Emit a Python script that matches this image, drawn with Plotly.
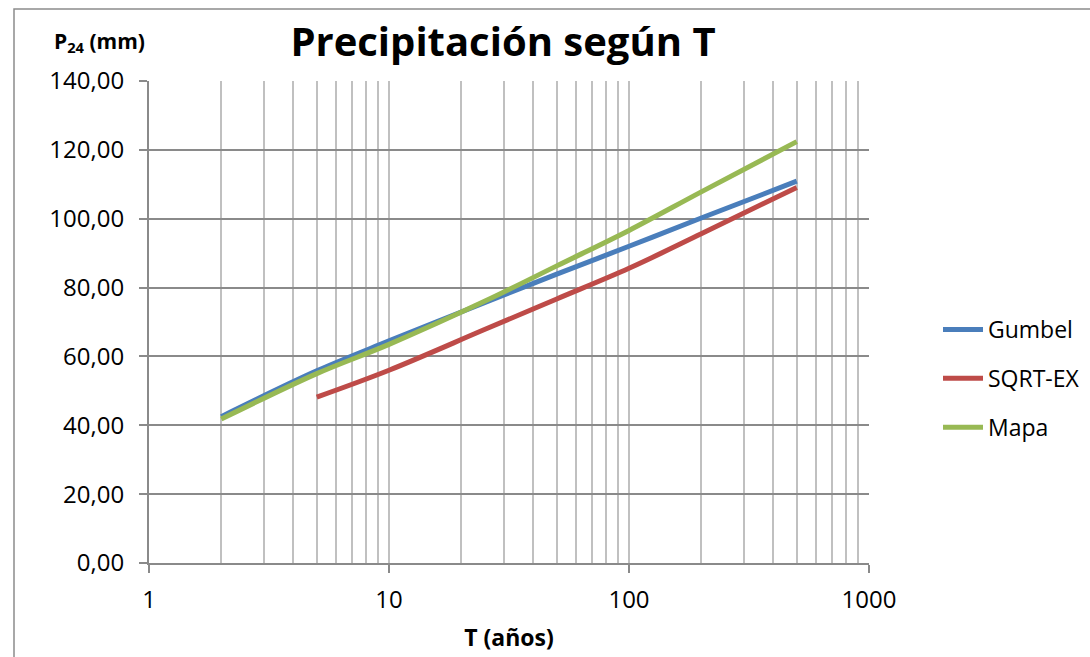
import plotly.graph_objects as go

# ---- data ----
T_gumbel = [2, 5, 10, 25, 50, 100, 200, 500]
gumbel = [42.5, 55.8, 64.5, 75.6, 83.9, 92.0, 100.2, 110.9]

T_sqrt = [5, 10, 25, 50, 100, 200, 500]
sqrt_ex = [48.2, 56.0, 67.8, 76.7, 85.6, 95.6, 109.1]

T_mapa = [2, 5, 10, 25, 50, 100, 200, 500]
mapa = [41.8, 55.0, 63.5, 76.0, 86.3, 96.6, 107.8, 122.4]

x_tickvals = [1, 10, 100, 1000]
x_ticktext = ["1", "10", "100", "1000"]

FONT = "Open Sans"
W, H = 1090, 657
L, R, T, B = 149, 869, 81, 563  # plot area pixel bounds

fig = go.Figure()
series = [
    ("Gumbel", T_gumbel, gumbel, "#4A7EBB"),
    ("SQRT-EX", T_sqrt, sqrt_ex, "#BE4B48"),
    ("Mapa", T_mapa, mapa, "#98B954"),
]
for i, (name, xs, ys, col) in enumerate(series):
    fig.add_trace(go.Scatter(
        x=xs, y=ys, mode="lines", name=name, legendgroup=f"g{i}",
        line=dict(color=col, width=5, shape="spline", smoothing=1.0),
    ))

def px_x(p):
    return (p - L) / (R - L)

def px_y(p):
    return (B - p) / (B - T)

fig.update_layout(
    width=W, height=H,
    margin=dict(l=L, r=W - R, t=T, b=H - B, autoexpand=False),
    paper_bgcolor="white", plot_bgcolor="white",
    separators=",.",
    font=dict(family=FONT, size=24, color="#000000"),
    title=dict(text="<b>Precipitación según T</b>", x=503 / W, xanchor="center",
               y=1 - 42 / H, yanchor="middle", yref="container",
               font=dict(family=FONT, size=40, color="#000000")),
    showlegend=True,
    legend=dict(x=px_x(938), y=px_y(308), xanchor="left", yanchor="top",
                font=dict(family=FONT, size=23), tracegroupgap=16,
                bgcolor="rgba(0,0,0,0)", itemwidth=40),
    xaxis=dict(type="log", range=[0, 3], tickvals=x_tickvals, ticktext=x_ticktext,
               automargin=False,
               showgrid=True, gridcolor="#C0C0C0", gridwidth=2,
               minor=dict(dtick="D1", showgrid=True, gridcolor="#C0C0C0", gridwidth=2),
               showline=True, linecolor="#8A8A8A", linewidth=2, mirror=False,
               ticks="outside", ticklen=8, tickcolor="#8A8A8A", tickwidth=2,
               ticklabelstandoff=6,
               tickfont=dict(family=FONT, size=24),
               title=dict(text="<b>T (años)</b>", font=dict(family=FONT, size=23), standoff=16)),
    yaxis=dict(range=[0, 140], dtick=20, tickformat=".2f",
               automargin=False,
               showgrid=True, gridcolor="#8A8A8A", gridwidth=2,
               showline=True, linecolor="#8A8A8A", linewidth=2,
               ticks="outside", ticklen=8, tickcolor="#8A8A8A", tickwidth=2,
               ticklabelstandoff=10,
               tickfont=dict(family=FONT, size=24), zeroline=False),
    annotations=[dict(text="<b>P<sub>24</sub> (mm)</b>", xref="paper", yref="paper",
                      x=px_x(52), y=px_y(42), xanchor="left", yanchor="middle",
                      showarrow=False, font=dict(family=FONT, size=21))],
    shapes=[dict(type="rect", xref="paper", yref="paper",
                 x0=px_x(14), x1=px_x(1100), y0=px_y(670), y1=px_y(9),
                 line=dict(color="#8C8C8C", width=1.5), layer="below")],
)

fig.write_html("out.html")
